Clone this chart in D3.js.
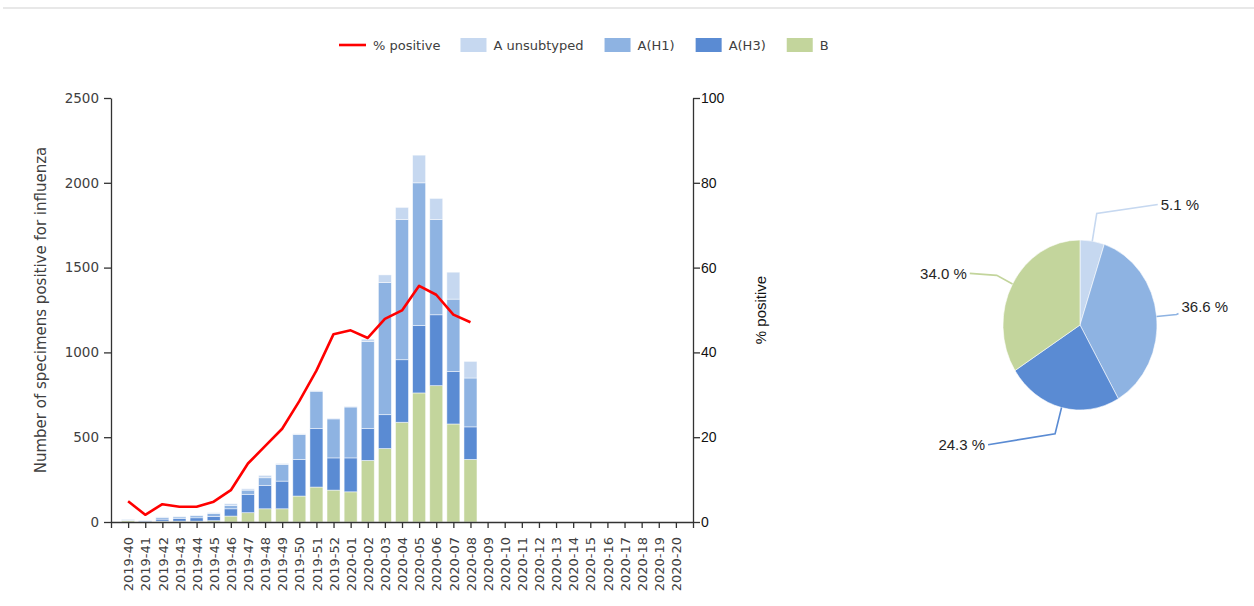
<!DOCTYPE html>
<html>
<head>
<meta charset="utf-8">
<script src="https://cdn.jsdelivr.net/npm/d3@7"></script>
<style>
  html, body { margin: 0; padding: 0; background: #ffffff; }
  svg { display: block; }
</style>
</head>
<body>
<svg id="chart" width="1254" height="606"></svg>
<script>
// ---------------- data ----------------
const weeks = ["2019-40","2019-41","2019-42","2019-43","2019-44","2019-45","2019-46","2019-47","2019-48","2019-49","2019-50","2019-51","2019-52",
  "2020-01","2020-02","2020-03","2020-04","2020-05","2020-06","2020-07","2020-08","2020-09","2020-10","2020-11","2020-12","2020-13",
  "2020-14","2020-15","2020-16","2020-17","2020-18","2020-19","2020-20"];
const seriesNames = ["A unsubtyped", "A(H1)", "A(H3)", "B"];
const valuesB      = [8,0,5,5,5,8,35,55,78,78,153,206,188,178,363,433,588,761,804,578,369];
const valuesAH3    = [0,5,12,15,20,25,43,108,138,163,216,345,190,200,188,200,369,398,418,310,192];
const valuesAH1    = [3,3,10,10,12,17,20,25,45,98,147,220,230,300,514,779,827,841,562,426,288];
const valuesAUnsub = [5,2,3,3,4,5,10,8,14,6,4,4,4,4,13,45,71,163,124,159,98];
const pctPositive  = [4.9,1.7,4.2,3.6,3.6,4.8,7.5,13.8,17.9,22.0,28.5,35.7,44.3,45.2,43.4,47.9,49.9,55.7,53.6,48.9,47.1];
const leftTicks  = [0,500,1000,1500,2000,2500];
const rightTicks = [0,20,40,60,80,100];
const pieShares  = [5.1, 36.6, 24.3, 34.0]; // A unsubtyped, A(H1), A(H3), B

// ---------------- styles ----------------
const colors = {"A unsubtyped":"#c6d8f0","A(H1)":"#8eb3e2","A(H3)":"#5a8bd3","B":"#c3d59c"};
const sansA = "'DejaVu Sans', Verdana, sans-serif";
const sansB = "'Liberation Sans', Arial, sans-serif";

const svg = d3.select("#chart");

// top rule
svg.append("rect").attr("x", 3).attr("y", 7).attr("width", 1251).attr("height", 2).attr("fill", "#e8e8e8");

// ---------------- scales ----------------
const x = d3.scalePoint().domain(weeks).range([111, 693]).padding(1);
const yL = d3.scaleLinear().domain([0, 2500]).range([522, 98]);
const yR = d3.scaleLinear().domain([0, 100]).range([522, 98]);
const barW = 13;

// stacked data
const rows = valuesB.map((b, i) => ({
  week: weeks[i], "B": b, "A(H3)": valuesAH3[i], "A(H1)": valuesAH1[i], "A unsubtyped": valuesAUnsub[i]
}));
const stack = d3.stack().keys(["B", "A(H3)", "A(H1)", "A unsubtyped"]);
const layers = stack(rows);

const gBars = svg.append("g");
layers.forEach(layer => {
  gBars.selectAll(null).data(layer).enter().append("rect")
    .attr("x", d => x(d.data.week) - barW / 2)
    .attr("width", barW)
    .attr("y", d => yL(d[1]))
    .attr("height", d => Math.max(0, yL(d[0]) - yL(d[1])))
    .attr("fill", colors[layer.key])
    .attr("stroke", "#ffffff").attr("stroke-opacity", 0.6).attr("stroke-width", 0.8);
});

// ---------------- axes ----------------
const axisColor = "#333";
const gxAxis = svg.append("g").attr("transform", "translate(0,522)")
  .call(d3.axisBottom(x).tickSize(6).tickSizeOuter(6));
gxAxis.select(".domain").attr("stroke", axisColor).attr("stroke-width", 1.3);
gxAxis.selectAll(".tick line").attr("stroke", axisColor).attr("stroke-width", 1.3);
gxAxis.selectAll(".tick text")
  .attr("transform", "rotate(-90)")
  .attr("x", -15).attr("y", 0).attr("dy", "0.36em")
  .attr("text-anchor", "end")
  .attr("fill", "#404040")
  .style("font-family", sansA).style("font-size", "13px");

const gyL = svg.append("g").attr("transform", "translate(111,0)")
  .call(d3.axisLeft(yL).tickValues(leftTicks).tickFormat(d3.format("d")).tickSize(7).tickSizeOuter(0));
gyL.select(".domain").attr("stroke", axisColor).attr("stroke-width", 1.3);
gyL.selectAll(".tick line").attr("stroke", axisColor).attr("stroke-width", 1.3);
gyL.selectAll(".tick text").attr("x", -12).attr("fill", "#404040")
  .style("font-family", sansA).style("font-size", "13.5px");

const gyR = svg.append("g").attr("transform", "translate(693,0)")
  .call(d3.axisRight(yR).tickValues(rightTicks).tickFormat(d3.format("d")).tickSize(7).tickSizeOuter(0));
gyR.select(".domain").attr("stroke", axisColor).attr("stroke-width", 1.3);
gyR.selectAll(".tick line").attr("stroke", axisColor).attr("stroke-width", 1.3);
gyR.selectAll(".tick text").attr("x", 8).attr("fill", "#111")
  .style("font-family", sansB).style("font-size", "14px");

// axis titles
svg.append("text")
  .attr("transform", "translate(46,310) rotate(-90)")
  .attr("text-anchor", "middle")
  .attr("fill", "#404040")
  .style("font-family", sansA).style("font-size", "15px")
  .text("Number of specimens positive for influenza");
svg.append("text")
  .attr("transform", "translate(766,310) rotate(-90)")
  .attr("text-anchor", "middle")
  .attr("fill", "#111")
  .style("font-family", sansB).style("font-size", "15px")
  .text("% positive");

// ---------------- line ----------------
const line = d3.line().x((d, i) => x(weeks[i])).y(d => yR(d));
svg.append("path").datum(pctPositive)
  .attr("d", line).attr("fill", "none")
  .attr("stroke", "#ff0000").attr("stroke-width", 2.6).attr("stroke-linejoin", "round");

// ---------------- legend ----------------
const legend = svg.append("g");
let lx = 339;
const ly = 45;
legend.append("line").attr("x1", lx).attr("x2", lx + 27).attr("y1", ly).attr("y2", ly)
  .attr("stroke", "#ff0000").attr("stroke-width", 2.6);
lx += 34;
let t = legend.append("text").attr("x", lx).attr("y", ly).attr("dy", "0.35em")
  .attr("fill", "#404040").style("font-family", sansA).style("font-size", "13px").text("% positive");
lx += t.node().getComputedTextLength() + 20;
seriesNames.forEach(name => {
  legend.append("rect").attr("x", lx).attr("y", ly - 7).attr("width", 26).attr("height", 14).attr("fill", colors[name]);
  lx += 33;
  const tt = legend.append("text").attr("x", lx).attr("y", ly).attr("dy", "0.35em")
    .attr("fill", "#404040").style("font-family", sansA).style("font-size", "13px").text(name);
  lx += tt.node().getComputedTextLength() + 21;
});

// ---------------- pie ----------------
const cx = 1080, cy = 325, rx = 77, ry = 85;
const pieData = d3.pie().sort(null).value(d => d)(pieShares);
const arc = d3.arc().innerRadius(0).outerRadius(ry);
const gPie = svg.append("g").attr("transform", `translate(${cx},${cy}) scale(${rx / ry},1)`);
gPie.selectAll("path").data(pieData).enter().append("path")
  .attr("d", arc)
  .attr("fill", (d, i) => colors[seriesNames[i]])
  .attr("stroke", "#ffffff").attr("stroke-width", 0.6);

// leader lines: radial extension then a short segment to the label
const leaderLayout = [
  {radial: 28, dx: 61,  dy: -9, labelDy: 0},
  {radial: 20, dx: 2,   dy: -1, labelDy: -7},
  {radial: 27, dx: -67, dy: 11, labelDy: 0},
  {radial: 18, dx: -27, dy: -2, labelDy: 0}
];
pieData.forEach((d, i) => {
  const a = (d.startAngle + d.endAngle) / 2;
  const sx = cx + rx * Math.sin(a), sy = cy - ry * Math.cos(a);
  const L = leaderLayout[i];
  const ex = sx + L.radial * Math.sin(a), ey = sy - L.radial * Math.cos(a);
  const fx = ex + L.dx, fy = ey + L.dy;
  svg.append("path")
    .attr("d", `M${sx},${sy}L${ex},${ey}L${fx},${fy}`)
    .attr("fill", "none").attr("stroke", colors[seriesNames[i]]).attr("stroke-width", 1.6);
  const right = Math.sin(a) > 0;
  svg.append("text")
    .attr("x", right ? fx + 3 : fx - 3)
    .attr("y", fy + L.labelDy).attr("dy", "0.35em")
    .attr("text-anchor", right ? "start" : "end")
    .attr("fill", "#262626")
    .style("font-family", sansB).style("font-size", "15px")
    .text(d3.format(".1f")(d.data) + " %");
});
</script>
</body>
</html>
